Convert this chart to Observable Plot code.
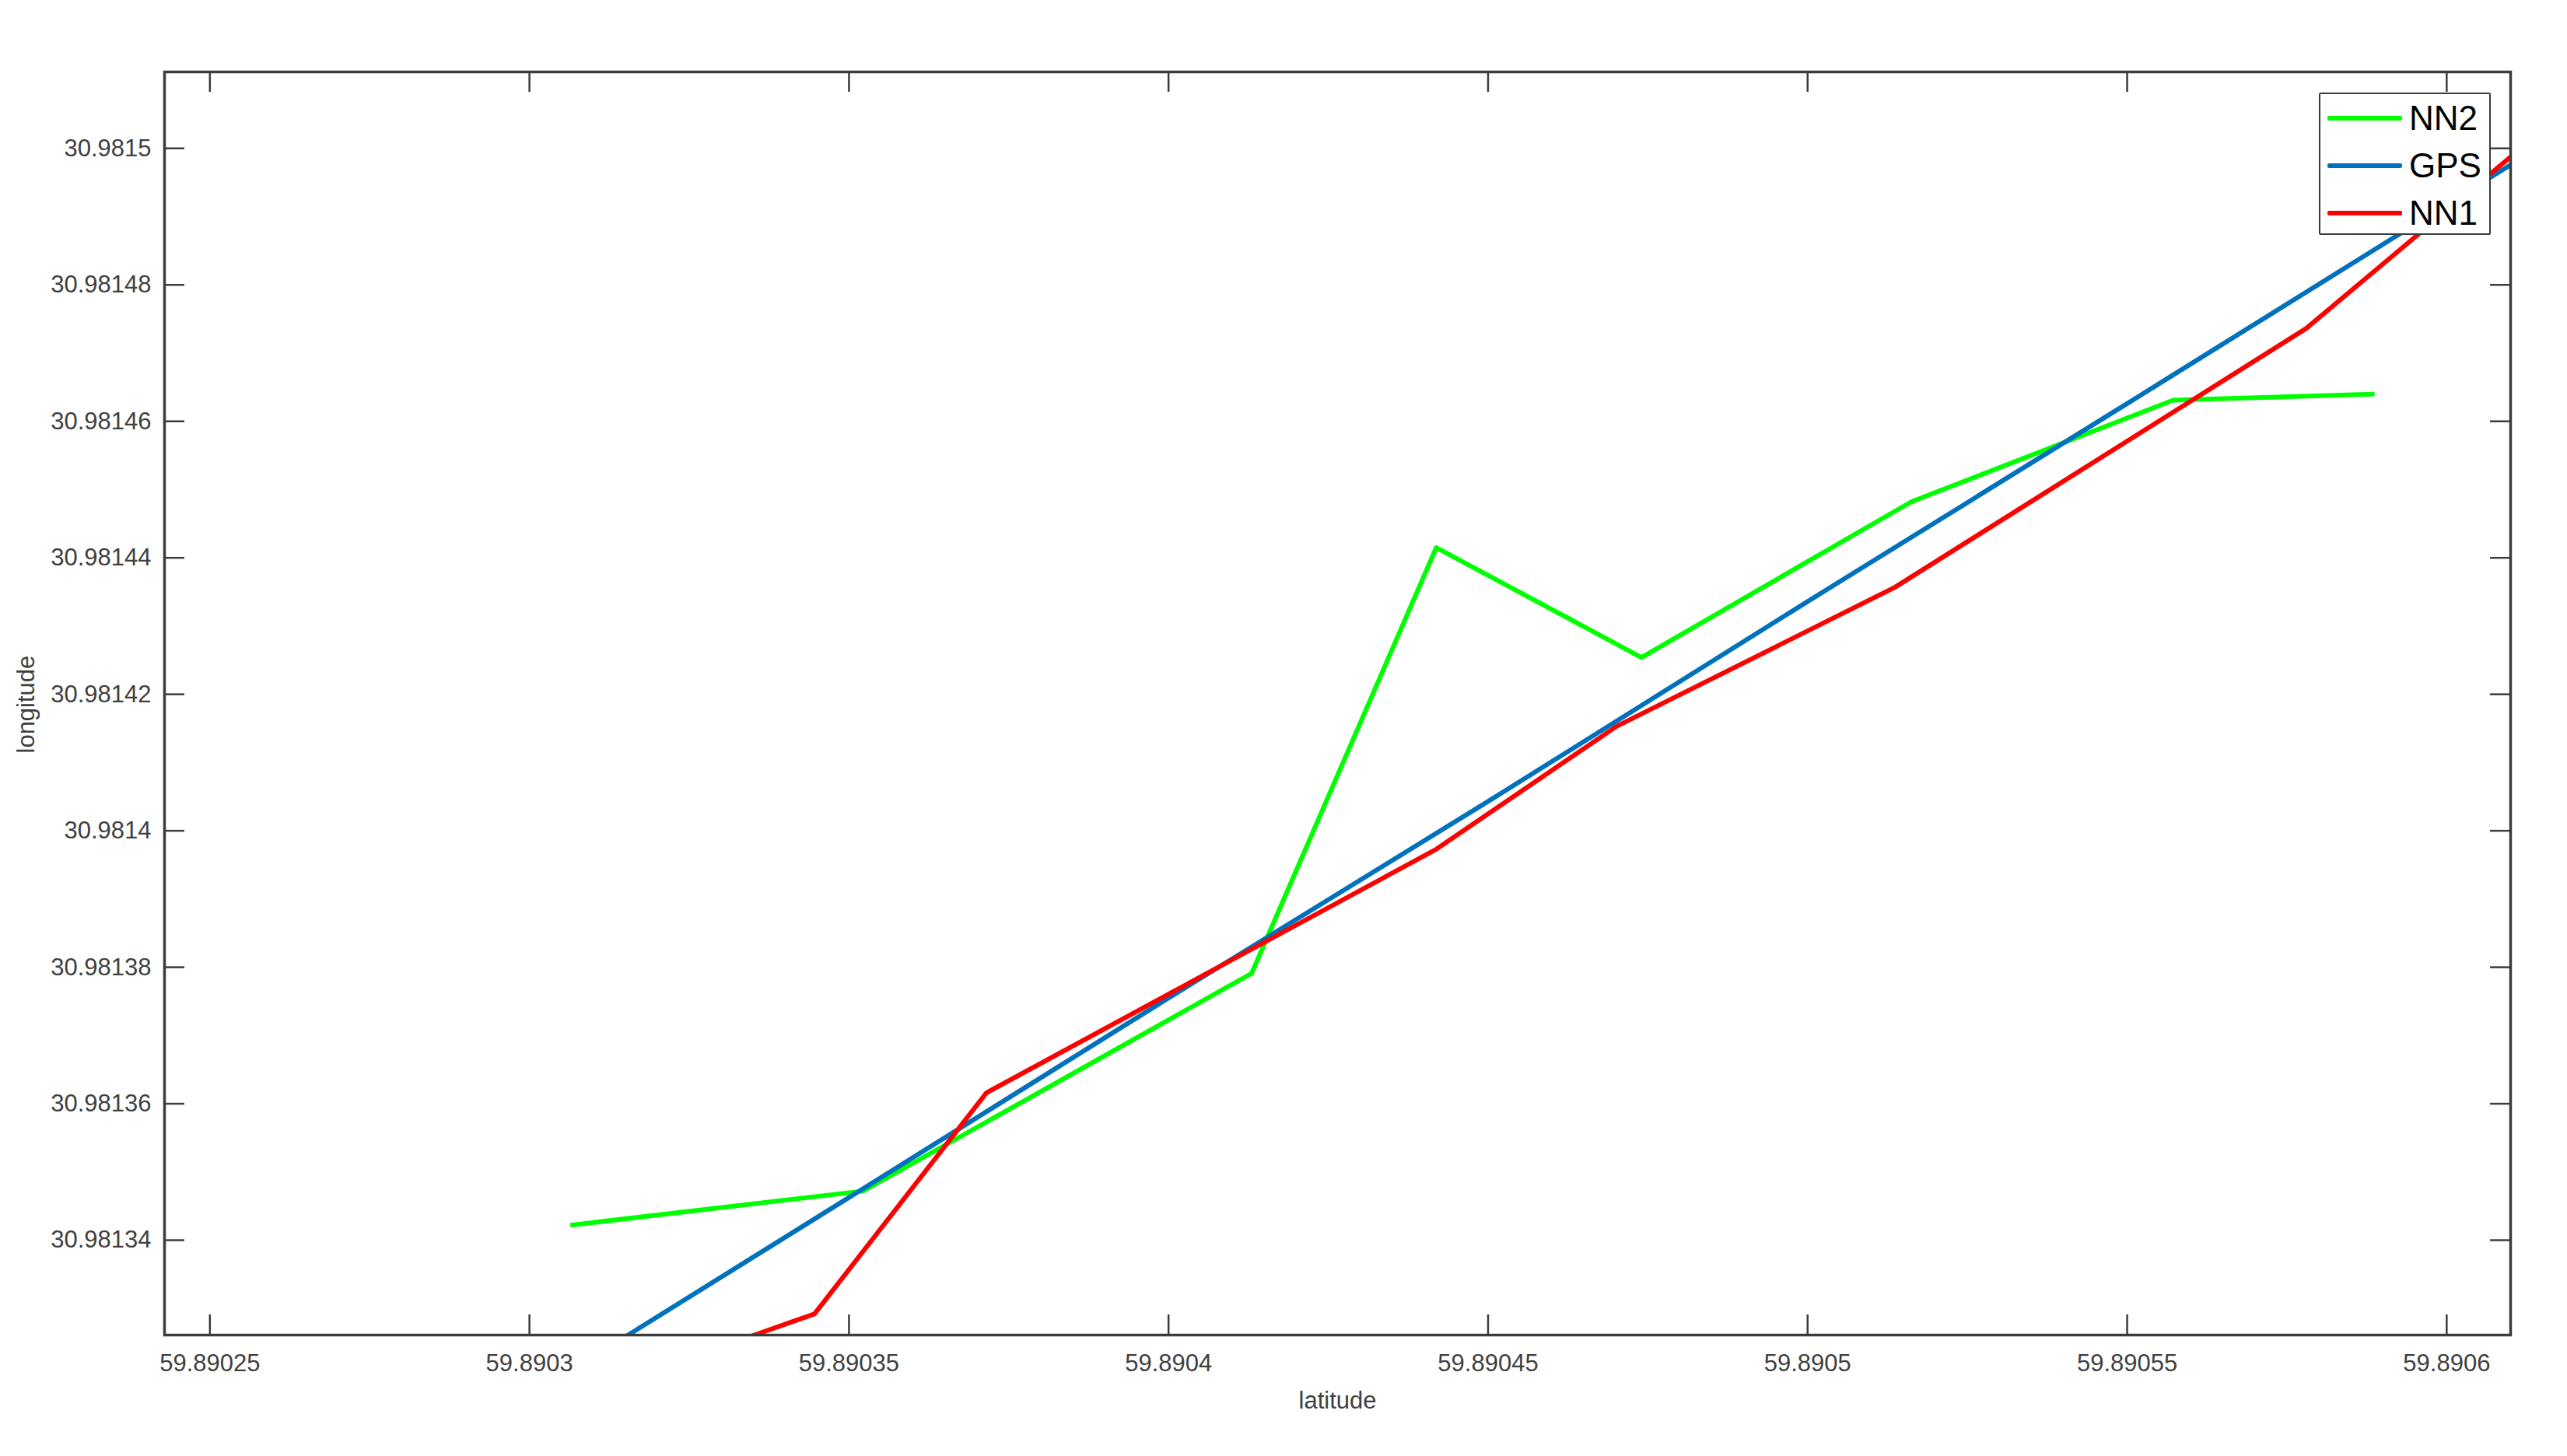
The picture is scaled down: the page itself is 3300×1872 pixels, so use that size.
<!DOCTYPE html>
<html>
<head>
<meta charset="utf-8">
<script src="https://cdn.jsdelivr.net/npm/d3@7"></script>
<script src="https://cdn.jsdelivr.net/npm/@observablehq/plot@0.6"></script>
<style>
  html, body { margin: 0; padding: 0; background: #ffffff; }
  #wrap { position: relative; width: 3300px; height: 1872px; overflow: hidden; }
  #legend { position: absolute; left: 2981px; top: 119px; width: 217px; height: 179px;
            border: 2px solid #3c3c3c; border-radius: 2px; background: #ffffff;
            font-family: "Liberation Sans", Arial, sans-serif; }
  .entry { position: absolute; left: 0; height: 50px; width: 217px; }
  .swatch { position: absolute; left: 9px; width: 96px; height: 6px; top: 22px; border-radius: 2px; }
  .name { position: absolute; left: 114px; top: 0; line-height: 50px; font-size: 44px; color: #000; }
</style>
</head>
<body>
<div id="wrap"></div>
<script>
// ---- data (latitude, longitude) ----
const seriesNames = ["NN2", "GPS", "NN1"];
const seriesColors = ["#00ff00", "#0072bd", "#ff0000"];

const nn2Lat = [59.8903064, 59.8903522, 59.8904130, 59.8904419, 59.8904740, 59.8905162, 59.8905572, 59.8905887];
const nn2Lon = [30.9813422, 30.9813472, 30.9813791, 30.9814415, 30.9814254, 30.9814482, 30.9814631, 30.9814640];

const gpsLat = [59.8903120, 59.8903499, 59.8904000, 59.8904500, 59.8905000, 59.8905500, 59.8906131];
const gpsLon = [30.9813241, 30.9813462, 30.9813755, 30.9814043, 30.9814336, 30.9814626, 30.9814994];

const nn1Lat = [59.8903346, 59.8903446, 59.8903715, 59.8904419, 59.8904701, 59.8905137, 59.8905780, 59.8906131];
const nn1Lon = [30.9813259, 30.9813292, 30.9813616, 30.9813973, 30.9814153, 30.9814357, 30.9814736, 30.9815012];

const xTicks = [59.89025, 59.8903, 59.89035, 59.8904, 59.89045, 59.8905, 59.89055, 59.8906];
const yTicks = [30.98134, 30.98136, 30.98138, 30.9814, 30.98142, 30.98144, 30.98146, 30.98148, 30.9815];
const xDomain = [59.8902429, 59.8906100];
const yDomain = [30.9813261, 30.9815112];
const xLabel = "latitude";
const yLabel = "longitude";

// ---- build table ----
const lats = [nn2Lat, gpsLat, nn1Lat];
const lons = [nn2Lon, gpsLon, nn1Lon];
const rows = [];
seriesNames.forEach((name, i) => {
  lats[i].forEach((lat, j) => rows.push({series: name, lat, lon: lons[i][j]}));
});

const W = 3300, H = 1872;
const mL = 211, mR = 73, mT = 92, mB = 156;
const innerW = W - mL - mR, innerH = H - mT - mB;
const tickLen = 26;
const axisColor = "#3c3c3c";
const labelColor = "#404040";
const fmt = d => String(+d.toFixed(6));

const lineMarks = seriesNames.map((name, i) =>
  Plot.line(rows.filter(r => r.series === name), {
    x: "lat", y: "lon", stroke: seriesColors[i], strokeWidth: 6,
    strokeLinejoin: "round", strokeLinecap: "butt", clip: true
  })
);

const chart = Plot.plot({
  width: W, height: H,
  marginLeft: mL, marginRight: mR, marginTop: mT, marginBottom: mB,
  style: {fontFamily: '"Liberation Sans", Arial, sans-serif', background: "#ffffff"},
  x: {domain: xDomain},
  y: {domain: yDomain},
  marks: [
    ...lineMarks,
    // inward tick marks on all four sides
    Plot.tickX(xTicks, {x: d => d, stroke: axisColor, strokeWidth: 2.5, insetTop: innerH - tickLen}),
    Plot.tickX(xTicks, {x: d => d, stroke: axisColor, strokeWidth: 2.5, insetBottom: innerH - tickLen}),
    Plot.tickY(yTicks, {y: d => d, stroke: axisColor, strokeWidth: 2.5, insetRight: innerW - tickLen}),
    Plot.tickY(yTicks, {y: d => d, stroke: axisColor, strokeWidth: 2.5, insetLeft: innerW - tickLen}),
    Plot.frame({stroke: axisColor, strokeWidth: 3.5}),
    Plot.axisX({ticks: xTicks, anchor: "bottom", tickSize: 0, tickPadding: 24, tickFormat: fmt,
                fontSize: 31, fill: labelColor, label: null}),
    Plot.axisY({ticks: yTicks, anchor: "left", tickSize: 0, tickPadding: 17, tickFormat: fmt,
                fontSize: 31, fill: labelColor, label: null}),
    Plot.text([xLabel], {text: d => d, frameAnchor: "bottom", dy: 94, fontSize: 31, fill: labelColor}),
    Plot.text([yLabel], {text: d => d, frameAnchor: "left", dx: -177, dy: 64, rotate: -90, fontSize: 31, fill: labelColor})
  ]
});

const wrap = document.getElementById("wrap");
wrap.appendChild(chart);

// legend (inside the axes, top-right)
const legend = document.createElement("div");
legend.id = "legend";
seriesNames.forEach((name, i) => {
  const e = document.createElement("div");
  e.className = "entry";
  e.style.top = (6 + i * 61) + "px";
  const sw = document.createElement("div");
  sw.className = "swatch";
  sw.style.background = seriesColors[i];
  const t = document.createElement("div");
  t.className = "name";
  t.textContent = name;
  e.appendChild(sw); e.appendChild(t);
  legend.appendChild(e);
});
wrap.appendChild(legend);
</script>
</body>
</html>
